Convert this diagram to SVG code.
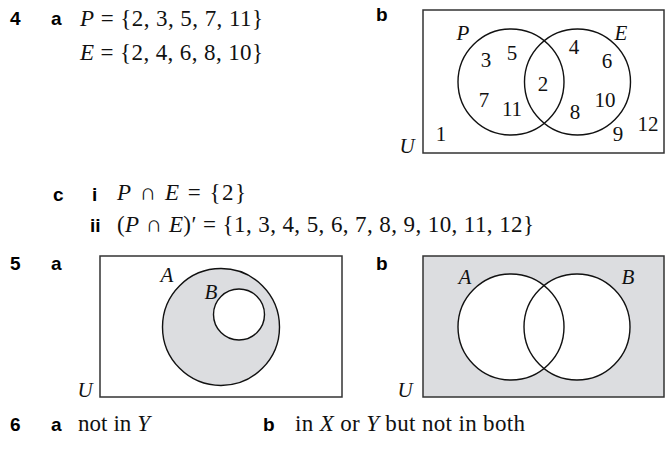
<svg xmlns="http://www.w3.org/2000/svg" width="667" height="450" viewBox="0 0 667 450">
<style>
.lbl{font-family:"Liberation Sans",Arial,sans-serif;font-weight:bold;font-size:19px;fill:#000}
.m{font-family:"Liberation Serif","Times New Roman",serif;font-size:23px;fill:#111}
.v{font-family:"Liberation Serif","Times New Roman",serif;font-size:21px;fill:#111;text-anchor:middle}
.it{font-style:italic}
.box{fill:#fff;stroke:#333;stroke-width:1.5}
.boxg{fill:#dcdde0;stroke:#333;stroke-width:1.5}
.c{fill:none;stroke:#111;stroke-width:1.4}
.wf{fill:#fff;stroke:none}
.cw{fill:#fff;stroke:#111;stroke-width:1.4}
.cg{fill:#dcdde0;stroke:#111;stroke-width:1.4}
</style>
<rect width="667" height="450" fill="#fff"/>

<g id="q4">
<text class="lbl" x="10" y="25">4</text>
<text class="lbl" x="51" y="25">a</text>
<text class="m" x="80" y="26" textLength="183"><tspan class="it">P</tspan> = {2, 3, 5, 7, 11}</text>
<text class="m" x="80" y="60" textLength="183"><tspan class="it">E</tspan> = {2, 4, 6, 8, 10}</text>
<text class="lbl" x="376" y="21">b</text>
</g>

<g id="venn4b">
<rect class="box" x="423" y="10" width="241" height="143"/>
<circle class="c" cx="511" cy="82" r="53"/>
<circle class="c" cx="577.5" cy="82" r="53"/>
<text class="v it" x="463" y="40">P</text>
<text class="v it" x="621" y="40">E</text>
<text class="v" x="486" y="67">3</text>
<text class="v" x="512" y="60">5</text>
<text class="v" x="574" y="54">4</text>
<text class="v" x="607" y="68">6</text>
<text class="v" x="543" y="91">2</text>
<text class="v" x="484" y="107">7</text>
<text class="v" x="512" y="116">11</text>
<text class="v" x="575" y="119">8</text>
<text class="v" x="605" y="107">10</text>
<text class="v" x="648" y="131">12</text>
<text class="v" x="618" y="141">9</text>
<text class="v" x="441" y="141">1</text>
<text class="v it" x="407" y="153">U</text>
</g>

<g id="q4c">
<text class="lbl" x="53" y="201">c</text>
<text class="lbl" x="92" y="201">i</text>
<text class="m" x="117" y="200" textLength="129"><tspan class="it">P</tspan> ∩ <tspan class="it">E</tspan> = {2}</text>
<text class="lbl" x="90" y="232">ii</text>
<text class="m" x="117" y="232" textLength="417">(<tspan class="it">P</tspan> ∩ <tspan class="it">E</tspan>)′ = {1, 3, 4, 5, 6, 7, 8, 9, 10, 11, 12}</text>
</g>

<g id="q5a">
<text class="lbl" x="10" y="270">5</text>
<text class="lbl" x="51" y="270">a</text>
<rect class="box" x="100" y="256" width="242" height="141"/>
<circle class="cg" cx="221" cy="327" r="58.5"/>
<circle class="cw" cx="239" cy="314.5" r="25.5"/>
<text class="v it" x="167" y="282">A</text>
<text class="v it" x="211" y="299">B</text>
<text class="v it" x="85" y="397">U</text>
</g>

<g id="q5b">
<text class="lbl" x="376" y="270">b</text>
<rect class="boxg" x="423" y="256" width="241" height="141"/>
<circle class="wf" cx="511" cy="327" r="53"/>
<circle class="wf" cx="577" cy="327" r="53"/>
<circle class="c" cx="511" cy="327" r="53"/>
<circle class="c" cx="577" cy="327" r="53"/>
<text class="v it" x="465" y="284">A</text>
<text class="v it" x="628" y="284">B</text>
<text class="v it" x="405" y="397">U</text>
</g>

<g id="q6">
<text class="lbl" x="10" y="431">6</text>
<text class="lbl" x="51" y="431">a</text>
<text class="m" x="78" y="431" textLength="72">not in <tspan class="it">Y</tspan></text>
<text class="lbl" x="263" y="431">b</text>
<text class="m" x="295" y="431" textLength="230">in <tspan class="it">X</tspan> or <tspan class="it">Y</tspan> but not in both</text>
</g>
</svg>
